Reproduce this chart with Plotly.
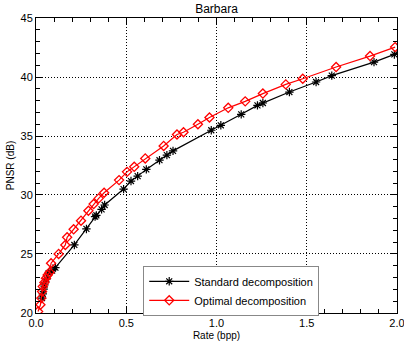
import plotly.graph_objects as go

std_rate = [0.033, 0.037, 0.042, 0.046, 0.057, 0.070, 0.089, 0.107, 0.212, 0.279,
            0.327, 0.334, 0.363, 0.380, 0.485, 0.526, 0.563, 0.611, 0.684, 0.725,
            0.759, 0.971, 1.024, 1.137, 1.227, 1.257, 1.404, 1.552, 1.639, 1.873, 1.986]
std_psnr = [21.25, 21.62, 22.01, 22.38, 22.86, 23.37, 23.59, 23.84, 25.76, 27.12,
            28.16, 28.27, 28.78, 29.15, 30.50, 31.18, 31.60, 32.17, 32.95, 33.38,
            33.74, 35.49, 35.91, 36.84, 37.60, 37.80, 38.73, 39.58, 40.12, 41.27, 41.92]

opt_rate = [0.011, 0.024, 0.029, 0.033, 0.037, 0.046, 0.055, 0.064, 0.075, 0.083,
            0.125, 0.162, 0.172, 0.208, 0.249, 0.290, 0.319, 0.347, 0.377, 0.460,
            0.504, 0.544, 0.605, 0.707, 0.781, 0.817, 0.897, 0.961, 1.065, 1.159,
            1.257, 1.384, 1.478, 1.663, 1.851, 1.990]
opt_psnr = [20.12, 20.69, 21.25, 21.81, 22.23, 22.57, 22.94, 23.22, 23.45, 24.21,
            25.00, 25.76, 26.41, 27.09, 27.82, 28.66, 29.23, 29.71, 30.19, 31.26,
            31.96, 32.39, 33.10, 34.16, 35.13, 35.32, 36.00, 36.57, 37.39, 37.94,
            38.60, 39.38, 39.86, 40.85, 41.78, 42.54]

x_ticks = [0.0, 0.5, 1.0, 1.5, 2.0]
x_labels = ["0.0", "0.5", "1.0", "1.5", "2.0"]
y_ticks = [20, 25, 30, 35, 40, 45]

FONT = "Liberation Sans, Arial, Helvetica, sans-serif"

fig = go.Figure()
fig.add_trace(go.Scatter(
    x=std_rate, y=std_psnr, mode="lines+markers", name="Standard decomposition",
    line=dict(color="black", width=1.2),
    marker=dict(symbol="asterisk-open", size=7, color="black", line=dict(color="black", width=1.2)),
))
fig.add_trace(go.Scatter(
    x=opt_rate, y=opt_psnr, mode="lines+markers", name="Optimal decomposition",
    line=dict(color="red", width=1.2),
    marker=dict(symbol="diamond-open", size=7, color="red", line=dict(color="red", width=1.3)),
))

axis_common = dict(
    showline=True, linecolor="black", linewidth=1, mirror="allticks",
    ticks="inside", ticklen=6, tickcolor="black", tickwidth=1,
    showgrid=True, gridcolor="black", griddash="1px,2px", gridwidth=1,
    zeroline=False, tickfont=dict(size=11, color="black", family=FONT),
    ticklabeloverflow="allow", automargin=False,
)

fig.update_xaxes(
    range=[-0.0005, 2.0005], tickvals=x_ticks, ticktext=x_labels,
    minor=dict(dtick=0.1, ticks="inside", ticklen=4, tickcolor="black", showgrid=False),
    title=dict(text="Rate (bpp)", font=dict(size=10, color="black", family=FONT), standoff=3),
    **axis_common,
)
fig.update_yaxes(
    range=[19.99, 45.01], tickvals=y_ticks,
    minor=dict(dtick=1, ticks="inside", ticklen=4, tickcolor="black", showgrid=False),
    title=dict(text="PNSR (dB)", font=dict(size=10, color="black", family=FONT), standoff=4),
    **axis_common,
)

fig.update_layout(
    width=404, height=350,
    margin=dict(l=36, r=7, t=18, b=37, autoexpand=False),
    paper_bgcolor="white", plot_bgcolor="white",
    title=dict(text="Barbara", x=0.5, xref="paper", xanchor="center", y=0.975, yanchor="middle",
               font=dict(size=12, color="black", family=FONT)),
    legend=dict(x=0.297, y=0.16, xanchor="left", yanchor="top",
                bgcolor="white", bordercolor="#888888", borderwidth=1,
                font=dict(size=11, color="black", family=FONT),
                itemwidth=40, tracegroupgap=0),
    showlegend=True,
)

fig.write_html("out.html")
